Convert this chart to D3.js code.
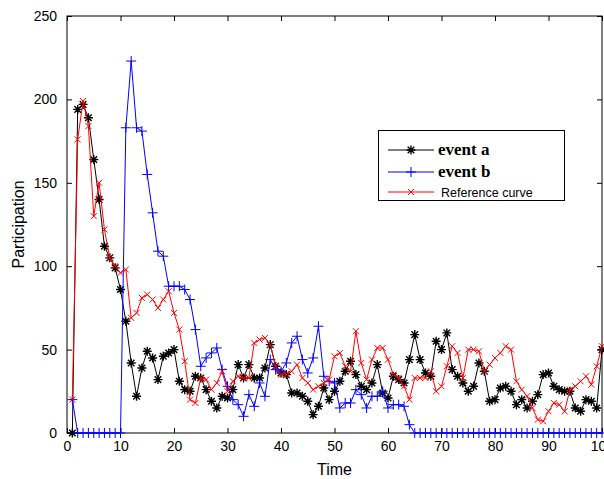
<!DOCTYPE html>
<html><head><meta charset="utf-8">
<script src="https://cdn.jsdelivr.net/npm/d3@7/dist/d3.min.js"></script>
<style>body{margin:0;background:#fff;}svg{display:block;}</style>
</head><body>
<script>
const timeSteps = d3.range(1, 101);
const eventA = [0,194,197,189,164,140,112,105,99,86,67,42,22,39,49,45,32,46,48,50,
  31,26,25,34,33,26,19,15,22,21,26,41,33,41,33,33,39,53,40,36,
  35,24,24,22,19,11,16,27,20,25,31,37,43,35,28,26,30,41,24,21,
  34,32,30,44,59,44,36,34,55,50,60,38,34,30,25,28,42,37,19,20,
  27,28,25,17,20,15,19,23,35,36,28,26,25,25,15,13,20,19,15,50];
const eventB = [20,0,0,0,0,0,0,0,0,0,183,223,183,181,155,132,109,106,88,88,
  88,86,80,62,40,45,48,51,38,28,20,17,10,23,16,30,22,44,38,37,
  42,54,58,44,36,45,64,34,31,30,15,18,18,26,23,15,22,22,25,15,
  17,17,16,5,0,0,0,0,0,0,0,0,0,0,0,0,0,0,0,0,
  0,0,0,0,0,0,0,0,0,0,0,0,0,0,0,0,0,0,0,0];
const referenceCurve = [20,176,199,184,130,150,122,105,100,96,98,69,72,81,83,80,75,80,85,72,
  62,43,20,18,33,32,26,30,37,25,31,34,33,33,54,56,57,53,40,35,
  35,37,41,33,30,26,28,30,32,46,48,40,37,61,42,32,44,51,51,44,
  35,33,28,20,33,33,33,37,25,28,40,52,48,33,50,50,49,37,41,45,
  48,52,50,31,26,22,15,8,7,13,18,17,13,26,28,31,34,29,40,52];
const xTickValues = [0,10,20,30,40,50,60,70,80,90,100];
const yTickValues = [0,50,100,150,200,250];
const seriesNames = ["event a","event b","Reference curve"];

const W = 604, H = 479;
const m = {left:67, right:2, top:16, bottom:46};
const svg = d3.select("body").append("svg").attr("width", W).attr("height", H);
const x = d3.scaleLinear().domain([0,100]).range([m.left, W - m.right]);
const y = d3.scaleLinear().domain([0,250]).range([H - m.bottom, m.top]);

svg.append("rect").attr("x", x(0)).attr("y", y(250))
  .attr("width", x(100)-x(0)).attr("height", y(0)-y(250))
  .attr("fill", "#fff").attr("stroke", "#000").attr("stroke-width", 1);

const fontAxis = "'Liberation Sans', Arial, sans-serif";
const ax = svg.append("g").attr("transform", `translate(0,${y(0)})`)
  .call(d3.axisBottom(x).tickValues(xTickValues).tickSizeInner(-5).tickSizeOuter(0).tickPadding(8));
const axT = svg.append("g").attr("transform", `translate(0,${y(250)})`)
  .call(d3.axisTop(x).tickValues(xTickValues).tickSizeInner(-5).tickSizeOuter(0).tickFormat(""));
const ay = svg.append("g").attr("transform", `translate(${x(0)},0)`)
  .call(d3.axisLeft(y).tickValues(yTickValues).tickSizeInner(-5).tickSizeOuter(0).tickPadding(10));
const ayR = svg.append("g").attr("transform", `translate(${x(100)},0)`)
  .call(d3.axisRight(y).tickValues(yTickValues).tickSizeInner(-5).tickSizeOuter(0).tickFormat(""));
[ax, axT, ay, ayR].forEach(g => {
  g.select(".domain").remove();
  g.selectAll("line").attr("stroke", "#000");
  g.selectAll("text").attr("font-family", fontAxis).attr("font-size", 14).attr("fill", "#000");
});

svg.append("text").attr("x", (x(0)+x(100))/2).attr("y", 475)
  .attr("text-anchor", "middle").attr("font-family", fontAxis).attr("font-size", 16).text("Time");
svg.append("text").attr("transform", `translate(24,${(y(0)+y(250))/2}) rotate(-90)`)
  .attr("text-anchor", "middle").attr("font-family", fontAxis).attr("font-size", 16).text("Participation");

function markerPath(type, cx, cy) {
  if (type === "star") {
    const a = 4.5, b = 3.3;
    return `M${cx-a},${cy}L${cx+a},${cy}M${cx},${cy-a}L${cx},${cy+a}M${cx-b},${cy-b}L${cx+b},${cy+b}M${cx-b},${cy+b}L${cx+b},${cy-b}`;
  }
  if (type === "plus") {
    const a = 5;
    return `M${cx-a},${cy}L${cx+a},${cy}M${cx},${cy-a}L${cx},${cy+a}`;
  }
  const b = 3;
  return `M${cx-b},${cy-b}L${cx+b},${cy+b}M${cx-b},${cy+b}L${cx+b},${cy-b}`;
}

const series = [
  {name: seriesNames[0], values: eventA, color: "#000000", marker: "star", mw: 1.4},
  {name: seriesNames[1], values: eventB, color: "#0000ff", marker: "plus", mw: 1},
  {name: seriesNames[2], values: referenceCurve, color: "#ff0000", marker: "x", mw: 1}
];

const plot = svg.append("g");
const line = d3.line().x((d,i) => x(timeSteps[i])).y(d => y(d));
series.forEach(s => {
  const g = plot.append("g");
  g.append("path").attr("d", line(s.values)).attr("fill", "none")
    .attr("stroke", s.color).attr("stroke-width", 1);
  g.append("path").attr("d", s.values.map((v,i) => markerPath(s.marker, x(timeSteps[i]), y(v))).join(""))
    .attr("fill", "none").attr("stroke", s.color).attr("stroke-width", s.mw);
});

const lg = svg.append("g");
lg.append("rect").attr("x", 378.5).attr("y", 130.5).attr("width", 186).attr("height", 70)
  .attr("fill", "#fff").attr("stroke", "#000").attr("stroke-width", 1);
const ly = [150, 172, 192];
series.forEach((s, i) => {
  lg.append("line").attr("x1", 388).attr("x2", 434).attr("y1", ly[i]).attr("y2", ly[i])
    .attr("stroke", s.color).attr("stroke-width", 1);
  lg.append("path").attr("d", markerPath(s.marker, 411, ly[i])).attr("stroke", s.color)
    .attr("stroke-width", s.mw).attr("fill", "none");
  const t = lg.append("text").attr("x", i < 2 ? 438 : 441).attr("y", ly[i] + (i < 2 ? 5 : 4.5)).text(s.name);
  if (i < 2) t.attr("font-family", "'Liberation Serif', 'Times New Roman', serif").attr("font-weight", "bold").attr("font-size", 17);
  else t.attr("font-family", fontAxis).attr("font-size", 12.5);
});
</script>
</body></html>
